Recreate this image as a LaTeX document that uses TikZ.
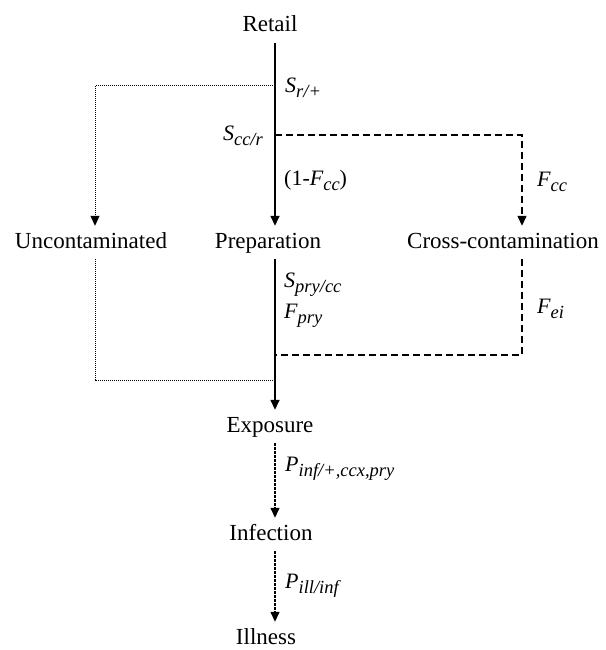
\documentclass[tikz,border=0pt]{standalone}
\usepackage{fontspec}
\setmainfont{Liberation Serif}
\usetikzlibrary{arrows.meta}
\newcommand{\lsub}[1]{\raisebox{-5pt}{\fontsize{18.5}{20}\selectfont #1}}
\tikzset{
  stage/.style={font=\fontsize{23}{27}\selectfont, text height=16pt, text depth=5pt, inner xsep=2pt, inner ysep=6pt, anchor=base},
  lab/.style={font=\fontsize{22}{26}\selectfont\itshape, anchor=west, inner sep=0pt},
  tip/.style={-{Triangle[length=10pt,width=9pt]}},
  solidln/.style={line width=1.5pt},
  dashln/.style={line width=1.3pt, dash pattern=on 7pt off 4pt},
  dotln/.style={line width=1pt, dash pattern=on 1pt off 1pt},
  dotarr/.style={line width=1.4pt, dash pattern=on 2.5pt off 1.5pt}
}
\begin{document}
\begin{tikzpicture}[x=1pt,y=-1pt]
\useasboundingbox (0,0) rectangle (605,650);
% columns
\coordinate (cL) at (95,0);
\coordinate (cM) at (275,0);
\coordinate (cR) at (522,0);
% nodes
\node[stage] (retail) at (270,32) {Retail};
\node[stage] (unc) at (91,248) {Uncontaminated};
\node[stage] (prep) at (268,248) {Preparation};
\node[stage] (cross) at (503,248) {Cross-contamination};
\node[stage] (expo) at (270,432) {Exposure};
\node[stage] (inf) at (271,540) {Infection};
\node[stage] (ill) at (266,644) {Illness};
% junctions
\coordinate (jr) at (275,86);
\coordinate (jcc) at (275,135);
\coordinate (je) at (275,355);
\coordinate (ju) at (275,380);
% connectors
\draw[solidln,tip] (retail.south -| cM) -- (prep.north -| cM);
\draw[dotln,tip] (jr) -| (unc.north -| cL);
\draw[dashln,tip] (jcc) -| (cross.north -| cR);
\draw[solidln,tip] (prep.south -| cM) -- (expo.north -| cM);
\draw[dashln] (cross.south -| cR) |- (je);
\draw[dotln] (unc.south -| cL) |- (ju);
\draw[dotarr,tip] (expo.south -| cM) -- (inf.north -| cM);
\draw[dotarr,tip] (inf.south -| cM) -- (ill.north -| cM);
% labels
\node[lab] (l1) at (285,88) {S\lsub{r/+}};
\node[lab,anchor=east] (l2) at (263,136) {S\lsub{cc/r}};
\node[lab] (l3) at (284,180) {\upshape(1-\itshape F\lsub{cc}\upshape)};
\node[lab] (l4) at (537,182) {F\lsub{cc}};
\node[lab] (l5) at (284,285) {S\lsub{pry/cc}};
\node[lab] (l6) at (284,316) {F\lsub{pry}};
\node[lab] (l7) at (537,309) {F\lsub{ei}};
\node[lab] (l8) at (285,469) {P\lsub{inf/+,ccx,pry}};
\node[lab] (l9) at (285,586) {P\lsub{ill/inf}};
\end{tikzpicture}
\end{document}
